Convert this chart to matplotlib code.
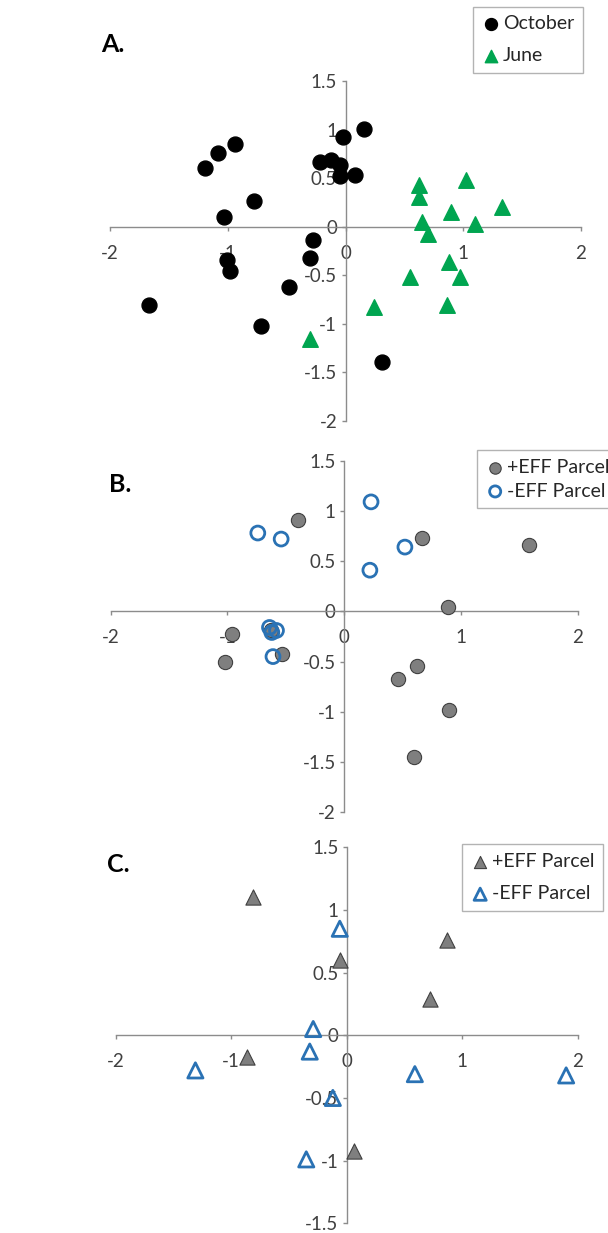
import matplotlib
matplotlib.use("Agg")
import matplotlib.pyplot as plt
import numpy as np

plt.rcParams['font.family'] = ['Lato', 'DejaVu Sans']

# Panel A
oct_x = [-1.19, -1.08, -0.94, -0.78, -1.03, -0.02, 0.16, -0.22, -0.12, -0.05,
         -0.05, 0.08, -0.28, -0.30, -1.01, -0.98, -0.48, -1.67, -0.72, 0.31]
oct_y = [0.61, 0.76, 0.85, 0.27, 0.10, 0.93, 1.01, 0.67, 0.69, 0.64,
         0.52, 0.53, -0.13, -0.32, -0.34, -0.45, -0.62, -0.80, -1.02, -1.39]
jun_x = [0.62, 0.62, 1.02, 1.33, 0.90, 0.65, 1.10, 0.70, 0.88, 0.97,
         0.55, 0.24, 0.86, -0.30]
jun_y = [0.43, 0.31, 0.48, 0.21, 0.15, 0.05, 0.03, -0.07, -0.36, -0.52,
         -0.52, -0.83, -0.80, -1.16]

# Panel B
b_pos_x = [-0.40, 0.67, 1.58, 0.89, -0.96, -1.02, -0.63, -0.53, 0.62, 0.46, 0.90, 0.60]
b_pos_y = [0.91, 0.73, 0.66, 0.04, -0.23, -0.50, -0.19, -0.42, -0.54, -0.67, -0.98, -1.45]
b_neg_x = [0.23, -0.74, -0.54, 0.52, 0.22, -0.64, -0.58, -0.62, -0.61]
b_neg_y = [1.09, 0.78, 0.72, 0.64, 0.41, -0.16, -0.19, -0.21, -0.45]

# Panel C
c_pos_x = [-0.81, -0.06, 0.87, 0.72, -0.86, 0.06]
c_pos_y = [1.10, 0.60, 0.76, 0.29, -0.17, -0.92]
c_neg_x = [-0.06, -0.29, -0.32, -1.31, 0.59, 1.90, -0.12, -0.35]
c_neg_y = [0.85, 0.05, -0.13, -0.28, -0.31, -0.32, -0.50, -0.99]

xticks = [-2, -1, 0, 1, 2]
yticks_ab = [-2, -1.5, -1, -0.5, 0, 0.5, 1, 1.5]
yticks_c = [-1.5, -1, -0.5, 0, 0.5, 1, 1.5]

W, H = 608, 1233
fig = plt.figure(figsize=(W / 100, H / 100), dpi=100)

AXIS_C = '#8c8c8c'
TXT_C = '#404040'
GRAY = '#7f7f7f'
BLUE = '#2a72b4'
GREEN = '#00a550'


def make_ax(x0, x1, ytop, ybot, yticks):
    ax = fig.add_axes([x0 / W, 1 - ybot / H, (x1 - x0) / W, (ybot - ytop) / H])
    ax.set_xlim(-2, 2)
    ax.set_ylim(yticks[0], yticks[-1])
    ax.spines['top'].set_visible(False)
    ax.spines['right'].set_visible(False)
    ax.spines['left'].set_position(('data', 0))
    ax.spines['bottom'].set_position(('data', 0))
    for s in ['left', 'bottom']:
        ax.spines[s].set_color(AXIS_C)
        ax.spines[s].set_linewidth(1.0)
    ax.set_xticks(xticks)
    ax.set_yticks(yticks)
    ax.set_xticklabels(['%g' % v for v in xticks])
    ax.set_yticklabels(['%g' % v for v in yticks])
    ax.tick_params(axis='both', direction='out', length=3, width=1,
                   color=AXIS_C, labelcolor=TXT_C, labelsize=13.5)
    ax.tick_params(axis='x', pad=10)
    ax.tick_params(axis='y', pad=3)
    ax.patch.set_alpha(0)
    return ax


def add_legend(ax, x, y, spacing):
    leg = ax.legend(loc='upper left', bbox_to_anchor=(x / W, 1 - y / H),
                    bbox_transform=fig.transFigure, fancybox=False,
                    edgecolor='#a0a0a0', fontsize=14, handletextpad=0.1,
                    handlelength=1.0, borderpad=0.45, labelspacing=spacing,
                    markerscale=0.8, borderaxespad=0)
    leg.get_frame().set_linewidth(1.0)
    for t in leg.get_texts():
        t.set_color('#262626')
    return leg


# A
axA = make_ax(110, 581, 81.3, 421, yticks_ab)
axA.scatter(oct_x, oct_y, s=115, color='black', label='October', zorder=3)
axA.scatter(jun_x, jun_y, s=125, marker='^', color=GREEN, label='June', zorder=3)
add_legend(axA, 473, 6.7, 0.75)
fig.text(101 / W, 1 - 44 / H, 'A.', fontsize=18, fontweight='bold', va='center')

# B
axB = make_ax(110.7, 577.7, 460.7, 812.3, yticks_ab)
axB.scatter(b_pos_x, b_pos_y, s=105, color=GRAY, edgecolors='#404040',
            linewidths=0.8, label='+EFF Parcel', zorder=3)
axB.scatter(b_neg_x, b_neg_y, s=100, facecolors='none', edgecolors=BLUE,
            linewidths=2, label='-EFF Parcel', zorder=4)
add_legend(axB, 476.7, 450, 0.35)
fig.text(109 / W, 1 - 485 / H, 'B.', fontsize=18, fontweight='bold', va='center')

# C
axC = make_ax(115.7, 577.7, 847.3, 1223.3, yticks_c)
axC.scatter(c_pos_x, c_pos_y, s=120, marker='^', color=GRAY, edgecolors='#404040',
            linewidths=0.8, label='+EFF Parcel', zorder=3)
axC.scatter(c_neg_x, c_neg_y, s=120, marker='^', facecolors='none', edgecolors=BLUE,
            linewidths=2, label='-EFF Parcel', zorder=4)
add_legend(axC, 461.7, 844, 0.8)
fig.text(107 / W, 1 - 865 / H, 'C.', fontsize=18, fontweight='bold', va='center')

fig.savefig('out.png', dpi=100)
